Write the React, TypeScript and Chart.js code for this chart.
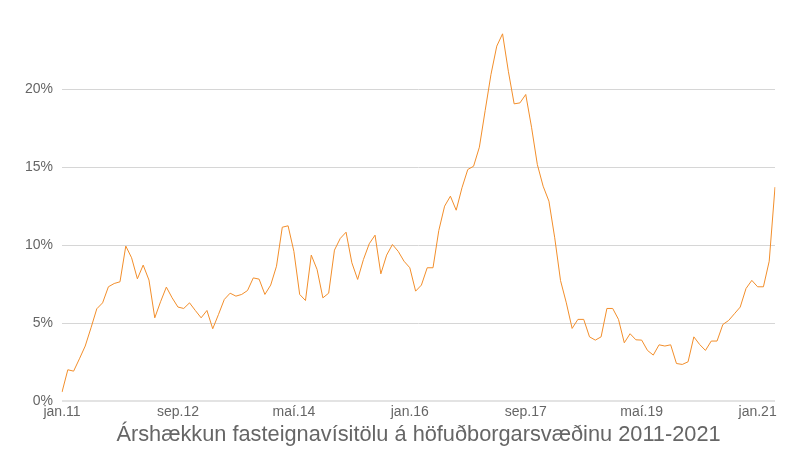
import { useEffect, useRef } from "react"
import { Chart, type ChartConfiguration, registerables } from "chart.js"

Chart.register(...registerables)

// Icelandic month abbreviations and years for the category axis
const monthNames = ["jan", "feb", "mar", "apr", "maí", "jún", "júl", "ágú", "sep", "okt", "nóv", "des"]
const years = [11, 12, 13, 14, 15, 16, 17, 18, 19, 20, 21]
const lastMonthIndex = 3 // data ends in apr.21

// annual rise in %, monthly, jan.11 - apr.21
const values2011to2013 = [
  0.58, 2.01, 1.92, 2.71, 3.53, 4.7, 5.92, 6.3, 7.33, 7.54, 7.65, 9.94,
  9.19, 7.84, 8.72, 7.76, 5.34, 6.37, 7.31, 6.62, 6.03, 5.94, 6.3, 5.81,
  5.34, 5.81, 4.64, 5.56, 6.52, 6.92, 6.73, 6.84, 7.09, 7.9, 7.82, 6.84,
]
const values2014to2016 = [
  7.44, 8.65, 11.15, 11.24, 9.6, 6.84, 6.45, 9.36, 8.44, 6.62, 6.92, 9.68,
  10.43, 10.83, 8.87, 7.8, 9.08, 10.09, 10.64, 8.16, 9.36, 10.04, 9.6, 8.97,
  8.55, 7.05, 7.44, 8.55, 8.55, 10.94, 12.5, 13.14, 12.24, 13.68, 14.85, 15.06,
]
const values2017to2019 = [
  16.28, 18.63, 20.94, 22.76, 23.55, 21.15, 19.06, 19.12, 19.66, 17.56, 15.17, 13.78,
  12.82, 10.47, 7.73, 6.3, 4.66, 5.24, 5.24, 4.12, 3.91, 4.12, 5.94, 5.94,
  5.24, 3.74, 4.32, 3.93, 3.91, 3.25, 2.95, 3.61, 3.53, 3.61, 2.41, 2.35,
]
const values2020to2021 = [
  2.52, 4.12, 3.63, 3.25, 3.85, 3.85, 4.91, 5.17, 5.6, 6.03, 7.22, 7.74,
  7.33, 7.33, 8.97, 13.72,
]

const yStep = 5
const yMax = 24.5
const labelStep = 20
const title = "Árshækkun fasteignavísitölu á höfuðborgarsvæðinu 2011-2021"

const labels: string[] = []
years.forEach((y, yi) => {
  monthNames.forEach((m, mi) => {
    if (yi === years.length - 1 && mi > lastMonthIndex) return
    labels.push(`${m}.${y}`)
  })
})

const values = [...values2011to2013, ...values2014to2016, ...values2017to2019, ...values2020to2021]

const font = "'Liberation Sans', Arial, sans-serif"

export default function App() {
  const chartRef = useRef<HTMLCanvasElement>(null)
  const chartInstance = useRef<Chart | null>(null)

  useEffect(() => {
    if (!chartRef.current) return
    if (chartInstance.current) chartInstance.current.destroy()
    const ctx = chartRef.current.getContext("2d")
    if (!ctx) return

    const config: ChartConfiguration = {
      type: "line",
      data: {
        labels,
        datasets: [
          {
            data: values,
            borderColor: "#f28e2b",
            borderWidth: 1,
            pointRadius: 0,
            tension: 0,
            fill: false,
          },
        ],
      },
      options: {
        responsive: true,
        maintainAspectRatio: false,
        animation: false,
        layout: { padding: { top: 19, left: 16, right: 25, bottom: 0 } },
        scales: {
          x: {
            grid: { display: false, drawTicks: false },
            border: { display: false },
            ticks: {
              autoSkip: false,
              maxRotation: 0,
              padding: 3,
              color: "#666",
              font: { family: font, size: 14 },
              callback: (_v, i) => (i % labelStep === 0 ? labels[i] : null),
            },
          },
          y: {
            min: 0,
            max: yMax,
            grid: {
              drawTicks: false,
              color: (c) => (c.tick && c.tick.value === 0 ? "#e3e3e3" : "#d6d6d6"),
              lineWidth: (c) => (c.tick && c.tick.value === 0 ? 2 : 1),
            },
            border: { display: false },
            ticks: {
              stepSize: yStep,
              includeBounds: false,
              padding: 9,
              color: "#666",
              font: { family: font, size: 14 },
              callback: (v) => `${v}%`,
            },
          },
        },
        plugins: {
          legend: { display: false },
          tooltip: { enabled: false },
          title: {
            display: true,
            fullSize: false,
            position: "bottom",
            text: title,
            color: "#666",
            font: { family: font, size: 21.75, weight: "normal" },
            padding: { top: -2, bottom: 2 },
          },
        },
      },
    }

    chartInstance.current = new Chart(ctx, config)

    return () => {
      if (chartInstance.current) {
        chartInstance.current.destroy()
        chartInstance.current = null
      }
    }
  }, [])

  return (
    <div style={{ position: "absolute", left: 0, top: 0, width: 800, height: 450 }}>
      <canvas ref={chartRef} />
    </div>
  )
}
